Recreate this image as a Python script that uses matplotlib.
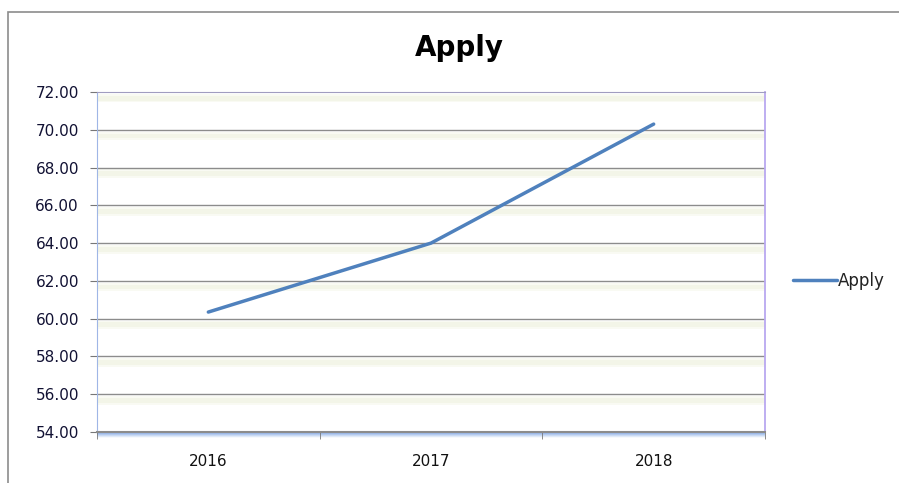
import matplotlib.pyplot as plt
import numpy as np
from matplotlib.patches import Rectangle
from matplotlib.colors import LinearSegmentedColormap

years = ['2016', '2017', '2018']
apply_vals = [60.35, 64.0, 70.3]
y_ticks = [54, 56, 58, 60, 62, 64, 66, 68, 70, 72]
y_labels = ['{:.2f}'.format(v) for v in y_ticks]


def main():
    fig = plt.figure(figsize=(8.99, 4.83), dpi=100)
    W, H = 899, 483

    # outer chart frame
    fig.add_artist(Rectangle((8 / W, -0.5), 2, 1.5 - 12 / H, transform=fig.transFigure,
                             fill=False, edgecolor='#8c8c8c', linewidth=1.2))

    left, right, top, bottom = 97, 765, 92, 432
    ax = fig.add_axes([left / W, (H - bottom) / H, (right - left) / W, (bottom - top) / H])

    # soft shadow under the category axis
    sh = fig.add_axes([left / W, (H - bottom - 6) / H, (right - left) / W, 6 / H])
    grad = np.linspace(1, 0, 20).reshape(-1, 1)
    sh.imshow(grad, aspect='auto', extent=[0, 1, 0, 1],
              cmap=LinearSegmentedColormap.from_list('sh', ['#ffffff', '#7fa6e4']))
    sh.axis('off')
    ax.set_zorder(2)

    x = np.arange(len(years))

    # pale soft bands under each gridline
    for v in y_ticks[1:]:
        ax.axhspan(v - 0.55, v - 0.1, color='#f9faf3', zorder=0, linewidth=0)
        ax.axhspan(v - 0.45, v - 0.2, color='#f3f5e8', zorder=0, linewidth=0)
    for v in y_ticks[1:-1]:
        ax.axhline(v, color='#8c8c8c', linewidth=1.0, zorder=1)

    ax.plot(x, apply_vals, color='#4f81bd', linewidth=2.5, solid_capstyle='round',
            label='Apply', zorder=3)

    ax.set_xlim(-0.5, 2.5)
    ax.set_ylim(54, 72)
    ax.set_yticks(y_ticks)
    ax.set_yticklabels(y_labels)
    ax.set_xticks(x)
    ax.set_xticklabels(years)
    ax.set_xticks([-0.5, 0.5, 1.5, 2.5], minor=True)
    ax.tick_params(axis='x', which='major', length=0, pad=16, labelsize=11, labelcolor='#111111')
    ax.tick_params(axis='x', which='minor', length=5, color='#777777', direction='out')
    ax.tick_params(axis='y', length=5, color='#777777', labelsize=11, labelcolor='#111133', pad=8)

    ax.spines['left'].set_color('#9fb6e6')
    ax.spines['right'].set_color('#b9a8f0')
    ax.spines['right'].set_linewidth(1.3)
    ax.spines['top'].set_color('#a09cc0')
    ax.spines['bottom'].set_color('#8c8c8c')
    ax.spines['bottom'].set_linewidth(1.5)

    fig.text(459 / W, 1 - 48 / H, 'Apply', ha='center', va='center',
             fontsize=20, fontweight='bold', color='black')

    leg = ax.legend(loc='center left', bbox_to_anchor=(1.02, 0.445), frameon=False,
                    fontsize=12, handlelength=2.6, handletextpad=0.05)
    for t in leg.get_texts():
        t.set_color('#222222')

    fig.savefig('out.png', dpi=100)


if __name__ == '__main__':
    main()
